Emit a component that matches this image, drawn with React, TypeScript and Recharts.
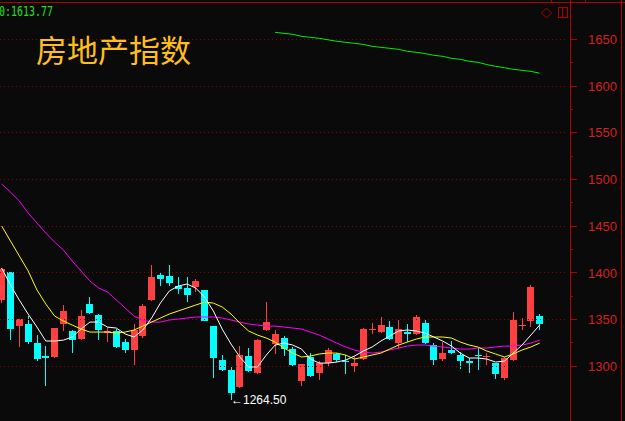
import { ComposedChart, Bar, Line, XAxis, YAxis, ReferenceLine } from 'recharts'

// daily candles (index 0 is the half-cut one at the left edge)
const OPEN = [
  1371.0, 1400.9, 1343.1, 1345.3, 1325.0, 1311.0, 1310.0, 1345.3, 1337.8, 1329.2,
  1366.7, 1354.9, 1335.7, 1337.8, 1326.0, 1317.5, 1332.5, 1371.0, 1397.8, 1396.7,
  1386.0, 1383.8, 1384.9, 1381.7, 1343.1, 1306.7, 1296.0, 1277.4, 1311.0, 1292.8,
  1338.9, 1323.9, 1330.3, 1318.5, 1284.3, 1310.0, 1292.8, 1303.5, 1313.2, 1306.0,
  1300.3, 1307.8, 1338.9, 1336.7, 1342.1, 1325.0, 1336.7, 1334.6, 1346.3, 1322.8,
  1307.8, 1317.5, 1312.1, 1305.6, 1312.1, 1310.0, 1303.5, 1287.6, 1306.7, 1343.1,
  1348.5, 1353.8,
]
const HIGH = [
  1405.0, 1401.5, 1351.0, 1353.8, 1333.5, 1321.7, 1341.5, 1365.6, 1338.5, 1360.3,
  1374.2, 1355.5, 1342.1, 1340.0, 1329.0, 1345.3, 1366.7, 1408.5, 1400.0, 1408.5,
  1395.6, 1395.6, 1393.4, 1382.0, 1343.5, 1312.1, 1299.3, 1321.7, 1319.6, 1329.0,
  1368.8, 1338.9, 1332.5, 1321.0, 1303.0, 1314.2, 1306.0, 1319.6, 1314.0, 1312.1,
  1311.0, 1341.0, 1346.3, 1352.8, 1348.5, 1349.6, 1345.3, 1354.9, 1349.6, 1325.0,
  1326.0, 1327.1, 1315.0, 1308.9, 1319.6, 1314.2, 1304.0, 1310.0, 1358.2, 1351.7,
  1387.0, 1356.0,
]
const LOW = [
  1368.1, 1328.1, 1320.7, 1323.9, 1305.7, 1278.9, 1309.0, 1337.8, 1314.2, 1328.0,
  1356.0, 1328.1, 1326.0, 1320.0, 1314.2, 1301.4, 1330.3, 1370.0, 1386.0, 1386.0,
  1377.4, 1368.8, 1379.5, 1348.0, 1287.6, 1295.0, 1264.5, 1277.0, 1294.0, 1292.0,
  1338.0, 1313.2, 1311.0, 1300.0, 1279.0, 1289.0, 1285.4, 1300.3, 1304.6, 1292.0,
  1294.0, 1307.0, 1334.6, 1336.0, 1328.0, 1318.5, 1326.0, 1334.0, 1324.0, 1301.4,
  1305.6, 1313.0, 1297.0, 1293.0, 1296.0, 1301.4, 1286.5, 1285.4, 1306.0, 1338.9,
  1342.1, 1338.9,
]
const CLOSE = [
  1404.1, 1339.9, 1350.6, 1326.0, 1307.8, 1308.9, 1341.0, 1359.2, 1328.2, 1353.8,
  1357.1, 1338.8, 1337.8, 1320.7, 1317.5, 1338.9, 1364.6, 1395.6, 1393.4, 1389.2,
  1382.7, 1376.3, 1391.3, 1348.5, 1308.9, 1296.0, 1271.4, 1312.6, 1294.9, 1328.1,
  1347.4, 1334.6, 1318.5, 1301.4, 1302.5, 1289.6, 1303.5, 1317.5, 1306.7, 1305.0,
  1303.5, 1339.9, 1339.9, 1344.2, 1329.2, 1339.9, 1334.6, 1352.8, 1325.0, 1306.7,
  1314.2, 1314.2, 1305.7, 1303.5, 1311.0, 1311.0, 1291.7, 1308.9, 1349.6, 1344.2,
  1384.9, 1345.3,
]

// moving averages (white / yellow / magenta), read at each candle
const MA5 = [
  1405.2, 1387.0, 1370.9, 1355.9, 1342.0, 1327.1, 1327.1, 1328.1, 1331.4, 1339.9,
  1347.4, 1347.4, 1342.0, 1341.0, 1334.6, 1331.4, 1338.9, 1351.7, 1367.8, 1380.6,
  1385.9, 1388.1, 1383.8, 1374.2, 1359.2, 1339.9, 1323.9, 1310.0, 1299.3, 1299.3,
  1312.1, 1322.8, 1324.9, 1322.8, 1318.5, 1307.8, 1303.5, 1303.5, 1304.6, 1306.7,
  1311.0, 1316.4, 1320.7, 1327.1, 1332.5, 1337.8, 1338.9, 1337.8, 1335.7, 1331.4,
  1327.1, 1321.7, 1314.2, 1308.9, 1308.9, 1307.8, 1304.6, 1305.6, 1314.2, 1322.8,
  1333.5, 1344.2,
]
const MA10 = [
  1450.2, 1434.1, 1418.1, 1402.1, 1381.7, 1366.7, 1353.8, 1348.5, 1344.2, 1339.9,
  1336.7, 1336.7, 1336.7, 1335.6, 1336.7, 1338.9, 1343.1, 1347.4, 1351.7, 1356.0,
  1359.2, 1362.4, 1365.6, 1368.8, 1367.7, 1363.5, 1356.0, 1346.3, 1337.8, 1333.5,
  1330.3, 1326.0, 1319.6, 1314.2, 1310.0, 1311.0, 1313.2, 1314.2, 1314.2, 1312.1,
  1307.8, 1310.0, 1312.1, 1314.2, 1318.5, 1322.8, 1326.0, 1329.2, 1331.4, 1331.4,
  1331.4, 1330.3, 1326.0, 1322.8, 1320.7, 1316.4, 1313.2, 1310.0, 1313.2, 1317.5,
  1320.7, 1324.9,
]
const MA20 = [
  1495.1, 1486.5, 1476.9, 1464.1, 1453.4, 1442.7, 1433.0, 1424.5, 1412.7, 1402.0,
  1391.3, 1383.8, 1379.5, 1371.0, 1362.4, 1353.8, 1349.6, 1347.4, 1347.4, 1349.6,
  1350.6, 1351.7, 1352.8, 1352.8, 1352.8, 1351.7, 1349.6, 1347.4, 1345.3, 1344.2,
  1343.1, 1343.1, 1342.1, 1341.0, 1339.9, 1336.7, 1333.5, 1329.2, 1324.9, 1320.7,
  1317.5, 1315.3, 1314.2, 1315.3, 1317.5, 1319.6, 1321.7, 1322.8, 1322.8, 1321.7,
  1320.7, 1319.6, 1318.5, 1318.5, 1319.6, 1319.6, 1320.7, 1321.7, 1321.7, 1322.8,
  1324.9, 1328.1,
]
// long average (green), only drawn from candle 31 on
const MA60_START = 31
const MA60 = [
  1657.5, 1656.4, 1655.4, 1653.2, 1652.1, 1651.1, 1649.5, 1647.9, 1646.8, 1645.7,
  1644.6, 1642.5, 1641.4, 1640.4, 1639.3, 1637.2, 1636.1, 1634.8, 1632.9, 1631.8,
  1629.7, 1628.6, 1626.5, 1625.4, 1623.0, 1621.1, 1619.7, 1617.9, 1616.8, 1615.7,
  1613.77,
]

const PRICE_TICKS = [1300, 1325, 1350, 1375, 1400, 1425, 1450, 1475, 1500, 1525, 1550, 1575, 1600, 1625, 1650]
const GRID_LEVELS = [1300, 1350, 1400, 1450, 1500, 1550, 1600, 1650]

const BG = '#0a0a0a'
const UP = '#ff4040'
const DOWN = '#00ffff'
const FRAME = '#b00000'
const GRID = '#8c0000'
const LABEL = '#d42020'

const MIN_LOW = Math.min(...LOW)

const data = OPEN.map((open, i) => ({
  i,
  open,
  high: HIGH[i],
  low: LOW[i],
  close: CLOSE[i],
  ma5: MA5[i],
  ma10: MA10[i],
  ma20: MA20[i],
  ma60: i >= MA60_START ? MA60[i - MA60_START] : null,
}))

const Candle = (props: any) => {
  const { x, y, width, height, payload } = props
  if (x == null || !payload || !height) return null
  const { open, close, high, low } = payload
  const color = close >= open ? UP : DOWN
  const cx = x + width / 2
  const left = Math.round(cx - 3.5)
  const toY = (v: number) => y + ((high - v) / (high - low)) * height
  const wickTop = Math.round(y)
  const wickBot = Math.round(y + height)
  const top = Math.round(toY(Math.max(open, close)))
  const bot = Math.round(toY(Math.min(open, close)))
  return (
    <g>
      <rect x={left + 3} y={wickTop} width={1} height={Math.max(1, wickBot - wickTop)} fill={color} />
      <rect x={left} y={top} width={7} height={Math.max(1, bot - top)} fill={color} />
      {low === MIN_LOW && (
        <text x={left + 3} y={y + height} dy="0.35em" fill="#ffffff" fontSize={12}
          fontFamily="'Liberation Sans', Arial, sans-serif">
          {'←' + low.toFixed(2)}
        </text>
      )}
    </g>
  )
}

const PriceTick = ({ x, y, payload }: any) => {
  const major = payload.value % 50 === 0
  const ly = Math.floor(y) + 0.5
  return (
    <g>
      <line x1={x - 1} x2={x + (major ? 6 : 2)} y1={ly} y2={ly} stroke={FRAME} />
      {major && (
        <text x={x + 17} y={y} dy="0.36em" fill={LABEL} fontSize={13}
          fontFamily="'Liberation Sans', Arial, sans-serif">
          {payload.value}
        </text>
      )}
    </g>
  )
}

const GridLine = (p: any) => {
  const gy = Math.floor(p.y1) + 0.5
  return <line x1={0} x2={566} y1={gy} y2={gy} stroke={GRID} strokeDasharray="1 3" />
}

export default function App() {
  return (
    <div style={{ position: 'fixed', left: 0, top: 0, width: 625, height: 421, background: BG, overflow: 'hidden' }}>
      <ComposedChart width={625} height={421} data={data} margin={{ top: 0, right: 0, bottom: 0, left: 0 }}>
        <XAxis dataKey="i" type="number" domain={[-0.193, 64.55]} hide allowDataOverflow />
        <YAxis
          orientation="right"
          width={54}
          domain={[1241.5, 1692.1]}
          ticks={PRICE_TICKS}
          interval={0}
          tick={<PriceTick />}
          tickLine={false}
          axisLine={false}
          tickSize={0}
          tickMargin={0}
          allowDataOverflow
        />
        {GRID_LEVELS.map(v => (
          <ReferenceLine key={v} y={v} shape={GridLine} />
        ))}
        <Bar dataKey={(d: any) => [d.low, d.high]} barSize={7} shape={(p: any) => <Candle {...p} />} isAnimationActive={false} />
        <Line dataKey="ma20" stroke="#ff00ff" strokeWidth={1} dot={false} activeDot={false} isAnimationActive={false} />
        <Line dataKey="ma10" stroke="#ffff00" strokeWidth={1} dot={false} activeDot={false} isAnimationActive={false} />
        <Line dataKey="ma5" stroke="#ffffff" strokeWidth={1} dot={false} activeDot={false} isAnimationActive={false} />
        <Line dataKey="ma60" stroke="#00ee00" strokeWidth={1} dot={false} activeDot={false} isAnimationActive={false} />
      </ComposedChart>

      {/* frame, icons and captions */}
      <svg width={625} height={421} style={{ position: 'absolute', left: 0, top: 0, pointerEvents: 'none' }}>
        <line x1={0} x2={625} y1={2.5} y2={2.5} stroke={FRAME} />
        <line x1={570.5} x2={570.5} y1={0} y2={421} stroke={FRAME} />
        <line x1={621.5} x2={621.5} y1={0} y2={421} stroke={FRAME} />
        <line x1={551.5} x2={551.5} y1={0} y2={2} stroke={FRAME} />
        <line x1={585.5} x2={585.5} y1={0} y2={2} stroke={FRAME} />
        <path d="M546.5 8 L551.5 13 L546.5 18 L541.5 13 Z" fill="none" stroke={FRAME} />
        <rect x={558.5} y={7.5} width={9} height={10} fill="none" stroke={FRAME} />
        <line x1={562.5} x2={562.5} y1={7.5} y2={17.5} stroke={FRAME} />
        <text x={-1} y={16} fill="#1ee11e" fontSize={14} textLength={54} lengthAdjust="spacingAndGlyphs"
          fontFamily="'DejaVu Sans Mono', monospace">
          0:1613.77
        </text>
        <text x={36} y={62} fill="#ffbf1a" fontSize={31} fontFamily="'Noto Sans CJK SC', sans-serif">
          房地产指数
        </text>
      </svg>
    </div>
  )
}
